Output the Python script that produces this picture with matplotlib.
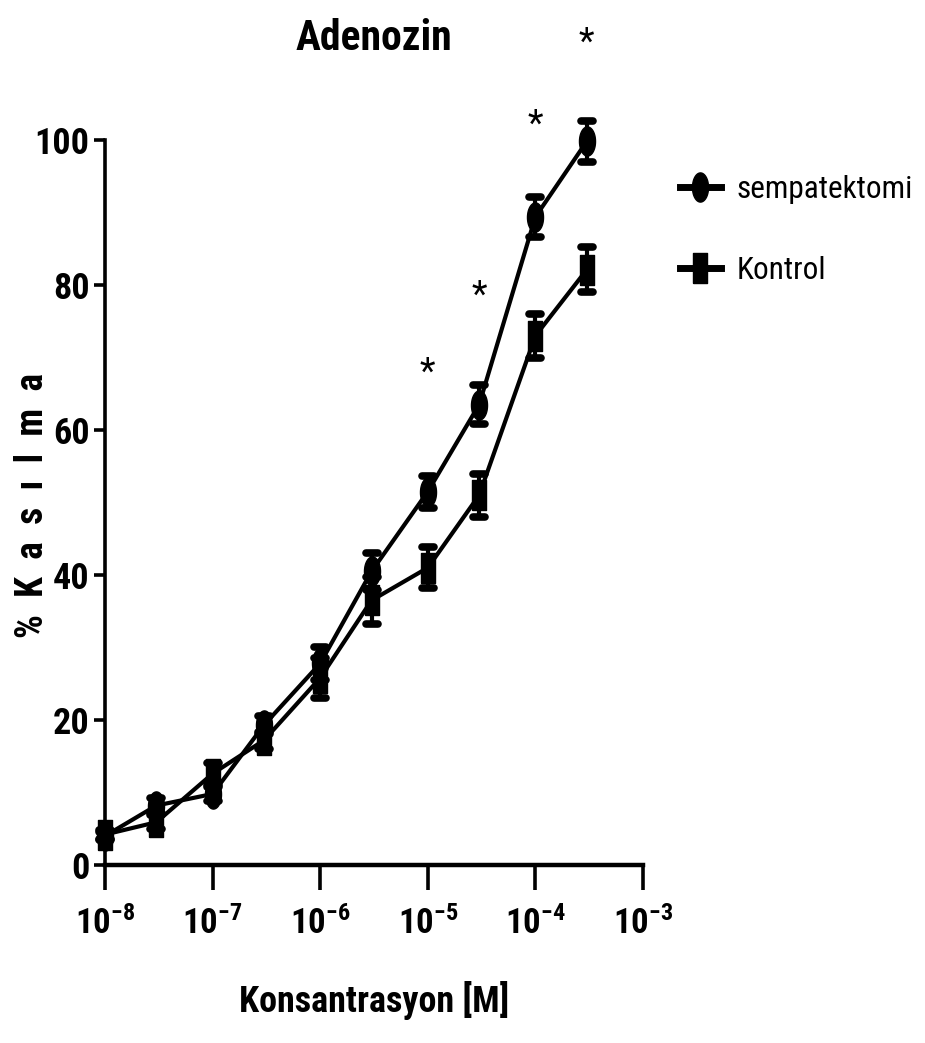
import numpy as np
import matplotlib
matplotlib.use("Agg")
from matplotlib import pyplot as plt
from matplotlib import font_manager
from matplotlib.markers import MarkerStyle
from matplotlib.lines import Line2D

# data
conc = [1e-8, 3e-8, 1e-7, 3e-7, 1e-6, 3e-6, 1e-5, 3e-5, 1e-4, 3e-4]
sempatektomi = [4.0, 8.2, 9.8, 19.3, 27.8, 40.5, 51.5, 63.5, 89.4, 99.8]
sempatektomi_err = [0.5, 1.0, 1.0, 1.2, 2.3, 2.5, 2.2, 2.7, 2.8, 2.8]
kontrol = [4.2, 5.9, 12.6, 17.2, 25.8, 36.5, 41.0, 51.0, 73.0, 82.1]
kontrol_err = [0.6, 1.0, 1.5, 1.2, 2.8, 3.2, 2.8, 3.0, 3.0, 3.1]
star_x = [1e-5, 3e-5, 1e-4, 3e-4]
star_y = [67.9, 78.6, 102.1, 113.5]
xticks = [1e-8, 1e-7, 1e-6, 1e-5, 1e-4, 1e-3]
xtick_labels = [r'$\mathbf{10^{-8}}$', r'$\mathbf{10^{-7}}$', r'$\mathbf{10^{-6}}$',
                r'$\mathbf{10^{-5}}$', r'$\mathbf{10^{-4}}$', r'$\mathbf{10^{-3}}$']
yticks = [0, 20, 40, 60, 80, 100]

# pick a helvetica-like face, narrow one if there is one
installed = {f.name for f in font_manager.fontManager.ttflist}
face = 'Liberation Sans'
for cand in ['Liberation Sans Narrow', 'Roboto Condensed', 'Liberation Sans']:
    if cand in installed:
        face = cand
        break
plt.rcParams['font.family'] = [face, 'DejaVu Sans']
plt.rcParams['mathtext.fontset'] = 'custom'
plt.rcParams['mathtext.rm'] = face
plt.rcParams['mathtext.bf'] = face + ':bold'

W, H = 925, 1043
fig = plt.figure(figsize=(W / 100, H / 100), dpi=100)
ax = fig.add_axes([105 / W, 1 - 865 / H, 538 / W, 725 / H])

# tall markers like the prism export
t = np.linspace(0, 2 * np.pi, 60)
ellipse = MarkerStyle(list(zip(0.55 * np.cos(t), np.sin(t))))
rect = MarkerStyle([(-0.5, -1), (0.5, -1), (0.5, 1), (-0.5, 1), (-0.5, -1)])
roundcap = MarkerStyle('_', capstyle='round')

def draw(y, err, marker):
    line, caps, bars = ax.errorbar(conc, y, yerr=err, color='k', lw=3, marker=marker,
                                   ms=21, capsize=4, capthick=5.5, elinewidth=3)
    for c in caps:
        c.set_marker(roundcap)
        c.set_clip_on(False)
    line.set_clip_on(False)
    for b in bars:
        b.set_clip_on(False)

draw(kontrol, kontrol_err, rect)
draw(sempatektomi, sempatektomi_err, ellipse)

for x, y in zip(star_x, star_y):
    ax.text(x, y, '*', ha='center', va='center', fontsize=26, clip_on=False)

ax.set_xscale('log')
ax.set_xlim(1e-8, 1e-3)
ax.set_ylim(0, 100)
ax.set_xticks(xticks)
ax.set_xticklabels(xtick_labels)
ax.set_yticks(yticks)
ax.minorticks_off()
for s in ['top', 'right']:
    ax.spines[s].set_visible(False)
ax.spines['left'].set_linewidth(2.6)
ax.spines['bottom'].set_linewidth(3.2)
ax.tick_params(axis='x', length=18, width=2.6, labelsize=25, pad=12)
ax.tick_params(axis='y', length=8, width=2.6, labelsize=26, pad=3)
for lab in ax.get_yticklabels():
    lab.set_fontweight('bold')

fig.text(374 / W, 1 - 38 / H, 'Adenozin', ha='center', va='center', fontsize=30, fontweight='bold')
fig.text(374 / W, 1 - 1000 / H, 'Konsantrasyon [M]', ha='center', va='center', fontsize=26, fontweight='bold')
fig.text(33 / W, 1 - 505 / H, '%  K  a  s  ı  l  m  a', ha='center', va='center', rotation=90,
         fontsize=27, fontweight='bold')

handles = [Line2D([], [], color='k', lw=5, marker=ellipse, ms=21),
           Line2D([], [], color='k', lw=5, marker=rect, ms=21)]
fig.legend(handles, ['sempatektomi', 'Kontrol'], loc='upper left',
           bbox_to_anchor=(680 / W, 1 - 175 / H), frameon=False, fontsize=22.5,
           handlelength=1.3, handletextpad=0.5, labelspacing=1.66, borderpad=0, borderaxespad=0)

plt.savefig("out.png", dpi=100)
